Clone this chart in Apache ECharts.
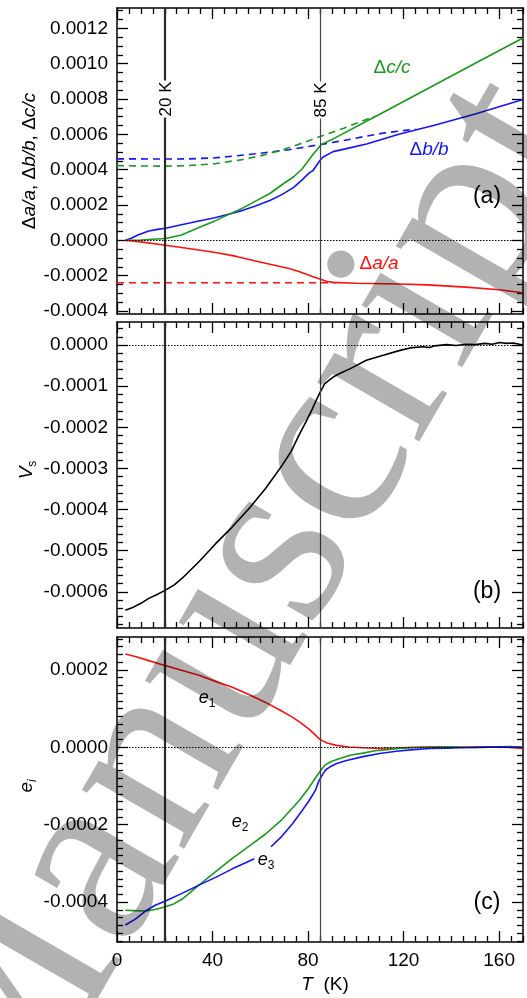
<!DOCTYPE html>
<html><head><meta charset="utf-8">
<script src="https://cdn.jsdelivr.net/npm/echarts@6/dist/echarts.min.js"></script>
<style>html,body{margin:0;padding:0;background:#fff}#c{width:527px;height:998px}</style>
</head><body><div id="c"></div>
<script>
// ---------- tick labels ----------
const T_LABELS = [0, 40, 80, 120, 160];
const T_MINOR_STEP = 5;
const A_TICKS = [-0.0004, -0.0002, 0, 0.0002, 0.0004, 0.0006, 0.0008, 0.0010, 0.0012];
const A_MINOR_STEP = 0.00005;
const B_TICKS = [-0.0006, -0.0005, -0.0004, -0.0003, -0.0002, -0.0001, 0];
const B_MINOR_STEP = 0.00002;
const C_TICKS = [-0.0004, -0.0002, 0, 0.0002];
const C_MINOR_STEP = 0.00002;
const T_MARKS = [20, 85];

// ---------- panel (a) ----------
const daSolid = [[3.5,0],[10,-0.000009],[20.3,-0.000028],[30,-0.000046],[41.3,-0.000069],[50,-0.000091],[58,-0.000117],[65,-0.000138],[72,-0.00016],[76.5,-0.000178],[80.4,-0.000198],[83,-0.00021],[85.6,-0.000222],[88,-0.000233],[90.5,-0.000238],[100,-0.000243],[118,-0.000247],[130,-0.000252],[146,-0.000265],[160,-0.00028],[170,-0.000297]];
const daFit = [[0,-0.00024],[45,-0.00024],[92,-0.00024]];
const dbSolid = [[3.5,0],[6,0.000012],[9,0.000032],[13.3,0.000053],[17,0.000062],[20.3,0.000068],[27,0.000088],[34.3,0.000109],[41,0.000128],[47.5,0.000151],[53,0.000171],[58,0.000194],[64,0.000225],[69.2,0.00026],[74,0.0003],[77.6,0.000344],[80.5,0.000382],[82.1,0.000395],[84.9,0.00045],[86.3,0.000472],[90.5,0.000502],[97,0.000522],[104.5,0.000545],[118,0.0006],[125,0.000625],[132.5,0.00065],[150,0.000715],[170,0.000797]];
const dbFit = [[0,0.000461],[10,0.000461],[20,0.00046],[30,0.000461],[40,0.000466],[50,0.000478],[60,0.000493],[72,0.000513],[85.6,0.000543],[95,0.000565],[104.5,0.00059],[112,0.000608],[125,0.00063]];
const dcSolid = [[3.5,0],[10,0.000002],[20.3,0.00001],[27,0.00003],[34.3,0.000072],[41,0.00011],[47.5,0.000151],[53,0.000185],[58,0.000222],[64,0.000265],[69.2,0.000316],[74,0.00036],[77.6,0.000405],[82.1,0.000487],[85.6,0.000543],[90.5,0.000574],[110,0.000714],[130,0.000858],[150,0.001002],[170,0.001145]];
const dcFit = [[0,0.000423],[10,0.000421],[20,0.00042],[30,0.000423],[40,0.000432],[52.5,0.000457],[60,0.000478],[70,0.000515],[80,0.000562],[85.6,0.00059],[95,0.000635],[102,0.000672],[108,0.000702]];

// ---------- panel (b) ----------
const vs = [[3.5,-0.000645],[6.3,-0.000639],[10,-0.000628],[13.3,-0.000616],[17,-0.000606],[20.3,-0.000596],[24,-0.000583],[27.3,-0.000567],[34.3,-0.000527],[41.3,-0.000483],[48.3,-0.000442],[55.2,-0.000398],[62.2,-0.000349],[69.2,-0.000292],[73,-0.000258],[76.2,-0.000219],[79,-0.000188],[81.8,-0.000155],[84,-0.000127],[85.3,-0.000112],[87,-0.000094],[90.5,-0.000078],[93,-0.00007],[97.5,-0.000058],[104.4,-0.000037],[111.5,-0.000025],[118.5,-0.000013],[122.7,-0.000007],[128,-0.000004],[131,-0.000006],[133,-0.000002],[138,0.000001],[142,-0.000001],[146,0.000002],[150,0.000001],[154,0.000004],[157,0.000002],[160.4,0.000006],[163,0.000004],[166,0.000005],[170,0]];

// ---------- panel (c) ----------
const e1 = [[3.5,0.000241],[8,0.000234],[13.3,0.000224],[20.3,0.000211],[27,0.000199],[34.3,0.000186],[41,0.000171],[48.3,0.000155],[55,0.000137],[62.2,0.000116],[68,0.000097],[73.4,0.000078],[77,0.000063],[80.4,0.000047],[83,0.000032],[84.6,0.000022],[86.3,0.000016],[88,0.000011],[91.9,0.000005],[97,0.000001],[103,-0.000001],[110,-0.000003],[117,-0.000002],[124,0],[135,0.000001],[145,0],[155,0.000001],[163,0],[170,-0.000003]];
const e2 = [[3.5,-0.000421],[7,-0.000422],[11.9,-0.000423],[16,-0.000419],[20.3,-0.000412],[24,-0.000404],[27.3,-0.000392],[34.3,-0.000356],[41.3,-0.000321],[48.3,-0.000287],[55.2,-0.000256],[62.2,-0.000224],[69.2,-0.000186],[76.2,-0.000138],[80,-0.000108],[83.2,-0.000078],[85.3,-0.00006],[87,-0.000046],[90,-0.000036],[93.3,-0.000029],[98,-0.00002],[103,-0.000015],[108,-0.000009],[112.9,-0.000006],[118,-0.000003],[124,-0.000001],[130,0],[140,0.000001],[150,-0.000001],[160,0.000001],[165,0.000002],[170,0]];
const e3 = [[3.5,-0.000459],[7.7,-0.000444],[11.9,-0.000423],[16,-0.000408],[20.3,-0.000397],[27,-0.000378],[34.3,-0.000356],[41.3,-0.000336],[48.3,-0.000314],[55,-0.000295],[57.5,-0.000288],null,[64.5,-0.000257],[69,-0.00023],[73.4,-0.000198],[77,-0.000168],[80.4,-0.000138],[83,-0.000112],[84.6,-0.000086],[86.3,-0.000068],[87.4,-0.000058],[89.1,-0.000051],[92,-0.000042],[96.1,-0.000034],[103,-0.000024],[110,-0.000016],[117,-0.00001],[124,-0.000006],[131,-0.000003],[138,-0.000002],[150,0],[160,0.000001],[170,0]];

// ---------- styling ----------
const RED = '#ff1010', GREEN = '#1a9a1a', BLUE = '#1515f5', BLACK = '#000';
const SANS = 'Liberation Sans, Arial, Helvetica, sans-serif';
const SERIF = 'Liberation Serif, Times New Roman, serif';

function minorValues(lo, hi, step, majors) {
  const out = [];
  for (let k = Math.ceil(lo / step - 1e-9); k <= Math.floor(hi / step + 1e-9); k++) {
    const v = +(k * step).toPrecision(10);
    if (!majors.some(m => Math.abs(m - v) < step * 1e-3)) out.push(v);
  }
  return out;
}

const grids = [
  { left: 117, top: 8, width: 406, height: 306 },
  { left: 117, top: 322, width: 406, height: 306 },
  { left: 117, top: 637, width: 406, height: 305 }
];
const panels = [
  { min: -0.000417, max: 0.001315, majors: A_TICKS, step: A_MINOR_STEP },
  { min: -0.000688, max: 0.000056, majors: B_TICKS, step: B_MINOR_STEP },
  { min: -0.000503, max: 0.000285, majors: C_TICKS, step: C_MINOR_STEP }
];

const xAxis = [], yAxis = [];
const lineStyleAxis = { color: '#000', width: 1.5 };
const tickStyle = { color: '#000', width: 1.3 };
const tMinors = minorValues(0, 170, T_MINOR_STEP, T_LABELS);
panels.forEach((p, gi) => {
  const showX = gi === 2;
  ['bottom', 'top'].forEach(pos => {
    xAxis.push({ gridIndex: gi, type: 'value', min: 0, max: 170, position: pos,
      axisLine: { show: true, onZero: false, lineStyle: lineStyleAxis },
      axisTick: { show: true, inside: true, length: 11, customValues: T_LABELS, lineStyle: tickStyle },
      axisLabel: { show: showX && pos === 'bottom', customValues: T_LABELS, fontSize: 19, color: '#000', fontFamily: SANS, margin: 9 },
      splitLine: { show: false } });
    xAxis.push({ gridIndex: gi, type: 'value', min: 0, max: 170, position: pos,
      axisLine: { show: false, onZero: false },
      axisTick: { show: true, inside: true, length: 6, customValues: tMinors, lineStyle: tickStyle },
      axisLabel: { show: false }, splitLine: { show: false } });
  });
  const yMinors = minorValues(p.min, p.max, p.step, p.majors);
  ['left', 'right'].forEach(pos => {
    yAxis.push({ gridIndex: gi, type: 'value', min: p.min, max: p.max, position: pos,
      axisLine: { show: true, onZero: false, lineStyle: lineStyleAxis },
      axisTick: { show: true, inside: true, length: 11, customValues: p.majors, lineStyle: tickStyle },
      axisLabel: { show: pos === 'left', customValues: p.majors, fontSize: 19, color: '#000', fontFamily: SANS, margin: 9,
        formatter: v => Number(v).toFixed(4) },
      splitLine: { show: false } });
    yAxis.push({ gridIndex: gi, type: 'value', min: p.min, max: p.max, position: pos,
      axisLine: { show: false, onZero: false },
      axisTick: { show: true, inside: true, length: 6, customValues: yMinors, lineStyle: tickStyle },
      axisLabel: { show: false }, splitLine: { show: false } });
  });
});

function markLines() {
  return {
    symbol: 'none', silent: true, animation: false, label: { show: false },
    data: [
      { xAxis: T_MARKS[0], lineStyle: { color: '#2a2a2a', width: 2.2, type: 'solid' } },
      { xAxis: T_MARKS[1], lineStyle: { color: '#444', width: 1.2, type: 'solid' } },
      { yAxis: 0, lineStyle: { color: '#000', width: 1, type: [1.5, 1.5] } }
    ]
  };
}

function line(gi, data, color, dashed, withMarks) {
  const s = { type: 'line', xAxisIndex: gi * 4, yAxisIndex: gi * 4, data: data,
    showSymbol: false, symbol: 'none', connectNulls: false, animation: false, z: 3,
    lineStyle: { color: color, width: 1.6, type: dashed ? [7, 5] : 'solid' } };
  if (withMarks) s.markLine = markLines();
  return s;
}

const series = [
  line(0, dbFit, BLUE, true, true), line(0, dcFit, GREEN, true), line(0, daFit, RED, true),
  line(0, dbSolid, BLUE, false), line(0, dcSolid, GREEN, false), line(0, daSolid, RED, false),
  line(1, vs, BLACK, false, true),
  line(2, e1, RED, false, true), line(2, e2, GREEN, false), line(2, e3, BLUE, false)
];

function txt(x, y, text, opts) {
  return Object.assign({ type: 'text', x: x, y: y, z: 100, silent: true,
    style: Object.assign({ text: text, fill: '#000', font: '19px ' + SANS, align: 'center', verticalAlign: 'middle' }, opts.style || {}) },
    opts.el || {});
}
const rot = Math.PI / 2;
const richAB = {
  n: { fontSize: 19, fontFamily: SANS, fontStyle: 'normal' },
  i: { fontSize: 19, fontFamily: SANS, fontStyle: 'italic' }
};
function richColor(c) {
  return { n: Object.assign({}, richAB.n, { fill: c }), i: Object.assign({}, richAB.i, { fill: c }) };
}
const subRich = (c, big) => ({
  b: { fontSize: big, fontFamily: SANS, fontStyle: 'italic', fill: c, lineHeight: 24 },
  s: { fontSize: 12, fontFamily: SANS, fontStyle: 'normal', fill: c, verticalAlign: 'bottom', lineHeight: 8 },
  si: { fontSize: 12, fontFamily: SANS, fontStyle: 'italic', fill: c, verticalAlign: 'bottom', lineHeight: 8 }
});

const graphic = [
  // watermark
  { type: 'text', x: 244, y: 610, rotation: Math.PI / 3, z: 200, silent: true,
    style: { text: 'Manuscript', font: '257px ' + SERIF, fill: 'rgba(0,0,0,0.3)', align: 'center', verticalAlign: 'middle' } },
  // axis names
  txt(30, 161, '', { el: { rotation: rot }, style: { text: '{n|Δ}{i|a/a}{n|, Δ}{i|b/b}{n|, Δ}{i|c/c}', rich: richColor('#000') } }),
  txt(27, 470, '', { el: { rotation: rot }, style: { text: '{b|V}{s|s}', rich: subRich('#000', 19) } }),
  txt(27, 786, '', { el: { rotation: rot }, style: { text: '{b|e}{si|i}', rich: subRich('#000', 19) } }),
  txt(325, 985, '', { style: { text: '{i|T}{n|  (K)}', rich: richColor('#000') } }),
  // panel letters
  txt(487, 197, '(a)', { style: { font: '23px ' + SANS } }),
  txt(487, 592, '(b)', { style: { font: '23px ' + SANS } }),
  txt(487, 903, '(c)', { style: { font: '23px ' + SANS } }),
  // curve labels
  txt(392, 68, '', { style: { text: '{n|Δ}{i|c/c}', rich: richColor(GREEN) } }),
  txt(429, 150, '', { style: { text: '{n|Δ}{i|b/b}', rich: richColor(BLUE) } }),
  txt(379, 264, '', { style: { text: '{n|Δ}{i|a/a}', rich: richColor(RED) } }),
  txt(207, 698, '', { style: { text: '{b|e}{s|1}', rich: subRich('#000', 18) } }),
  txt(240, 822, '', { style: { text: '{b|e}{s|2}', rich: subRich('#000', 18) } }),
  txt(266, 860, '', { style: { text: '{b|e}{s|3}', rich: subRich('#000', 18) } }),
  // temperature marks
  txt(166, 99, T_MARKS[0] + ' K', { el: { rotation: rot }, style: { font: '17px ' + SANS, backgroundColor: '#fff', padding: [0, 1] } }),
  txt(321, 100, T_MARKS[1] + ' K', { el: { rotation: rot }, style: { font: '17px ' + SANS, backgroundColor: '#fff', padding: [0, 1] } })
];

const chart = echarts.init(document.getElementById('c'), null, { renderer: 'canvas' });
chart.setOption({
  animation: false,
  backgroundColor: '#fff',
  grid: grids,
  xAxis: xAxis,
  yAxis: yAxis,
  series: series,
  graphic: graphic
});
</script>
</body></html>
